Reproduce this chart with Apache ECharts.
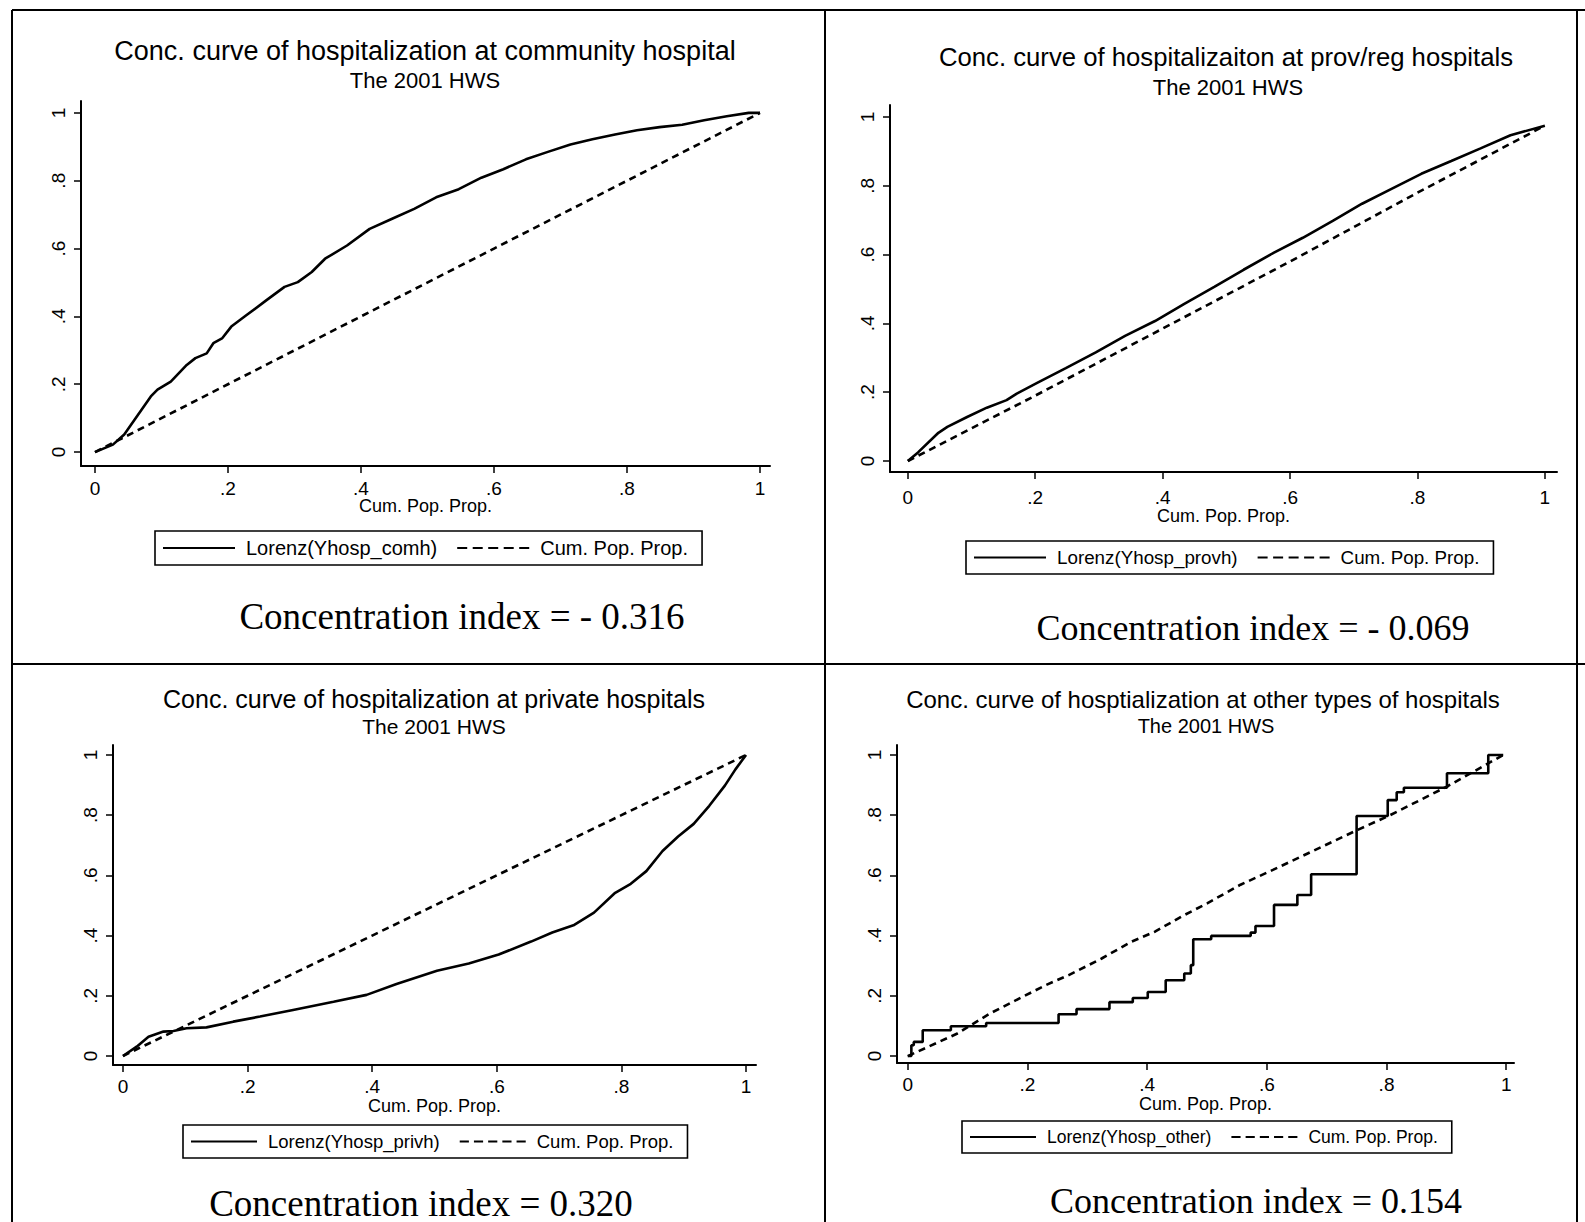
<!DOCTYPE html>
<html><head><meta charset="utf-8">
<script src="https://cdn.jsdelivr.net/npm/echarts@6/dist/echarts.min.js"></script>
<style>html,body{margin:0;padding:0;background:#fff}#c{width:1585px;height:1222px}</style>
</head><body><div id="c"></div>
<script>
// ---------- text ----------
const tickValues = [0, 0.2, 0.4, 0.6, 0.8, 1];
const tickLabels = ['0', '.2', '.4', '.6', '.8', '1'];
const panelTitles = [
  'Conc. curve of hospitalization at community hospital',
  'Conc. curve of hospitalizaiton at prov/reg hospitals',
  'Conc. curve of hospitalization at private hospitals',
  'Conc. curve of hosptialization at other types of hospitals'
];
const subtitle = 'The 2001 HWS';
const axisTitle = 'Cum. Pop. Prop.';
const lorenzNames = ['Lorenz(Yhosp_comh)', 'Lorenz(Yhosp_provh)', 'Lorenz(Yhosp_privh)', 'Lorenz(Yhosp_other)'];
const diagName = 'Cum. Pop. Prop.';
const concTexts = [
  'Concentration index = - 0.316',
  'Concentration index = - 0.069',
  'Concentration index = 0.320',
  'Concentration index = 0.154'
];

// ---------- data ----------
// Panel 1: community hospital
const comhX = [0,0.027,0.044,0.084,0.094,0.114,0.138,0.151,0.168,0.178,0.191,0.205,0.228,0.258,0.285,0.305,0.326,0.346,0.379,0.413,0.446,0.48,0.513,0.547,0.581,0.614,0.648,0.681,0.715,0.748,0.782,0.815,0.849,0.883,0.916,0.95,0.983,1];
const comhY = [0,0.022,0.052,0.164,0.184,0.208,0.257,0.277,0.291,0.321,0.335,0.37,0.404,0.448,0.487,0.501,0.531,0.57,0.609,0.658,0.687,0.717,0.751,0.775,0.809,0.834,0.863,0.885,0.907,0.922,0.936,0.949,0.958,0.965,0.978,0.99,1.0,1.0];
const comhDiagX = [0, 0.2, 0.4, 0.6, 0.8, 1];
const comhDiagY = [0, 0.2, 0.4, 0.6, 0.8, 1];
// Panel 2: prov/reg hospitals
const provhX = [0,0.016,0.048,0.062,0.093,0.124,0.155,0.171,0.203,0.248,0.295,0.341,0.388,0.434,0.481,0.527,0.574,0.62,0.667,0.713,0.76,0.806,0.853,0.899,0.946,1];
const provhY = [0,0.025,0.082,0.099,0.128,0.155,0.177,0.196,0.227,0.27,0.316,0.364,0.407,0.457,0.506,0.556,0.605,0.649,0.698,0.748,0.792,0.835,0.872,0.909,0.947,0.975];
const provhDiagX = [0, 0.2, 0.4, 0.6, 0.8, 1];
const provhDiagY = [0, 0.19, 0.385, 0.58, 0.78, 0.975];
// Panel 3: private hospitals
const privhX = [0,0.022,0.041,0.065,0.081,0.102,0.134,0.177,0.22,0.273,0.338,0.391,0.439,0.504,0.555,0.603,0.655,0.689,0.723,0.756,0.79,0.815,0.84,0.866,0.891,0.916,0.941,0.966,0.983,1];
const privhY = [0,0.031,0.064,0.081,0.083,0.092,0.095,0.114,0.131,0.153,0.18,0.203,0.239,0.283,0.307,0.337,0.38,0.41,0.434,0.476,0.542,0.572,0.614,0.681,0.729,0.771,0.831,0.898,0.952,1.0];
const privhDiagX = [0, 0.2, 0.4, 0.6, 0.8, 1];
const privhDiagY = [0, 0.2, 0.4, 0.6, 0.8, 1];
// Panel 4: other hospitals (step curve)
const otherX = [0,0.006,0.01,0.025,0.072,0.131,0.252,0.282,0.337,0.376,0.401,0.431,0.462,0.473,0.477,0.507,0.573,0.581,0.612,0.651,0.674,0.75,0.802,0.817,0.829,0.901,0.97,0.995];
const otherY = [0,0.036,0.047,0.086,0.099,0.11,0.139,0.156,0.179,0.193,0.213,0.252,0.274,0.302,0.388,0.399,0.41,0.432,0.502,0.535,0.604,0.797,0.85,0.876,0.891,0.939,1.0,1.0];
const otherDiagX = [0,0.082,0.137,0.192,0.231,0.269,0.324,0.374,0.413,0.457,0.501,0.556,0.611,0.745,0.806,0.901,0.995];
const otherDiagY = [0,0.074,0.141,0.197,0.236,0.269,0.324,0.38,0.413,0.463,0.508,0.569,0.619,0.745,0.8,0.895,1.0];

const lorenzX = [comhX, provhX, privhX, otherX];
const lorenzY = [comhY, provhY, privhY, otherY];
const diagX = [comhDiagX, provhDiagX, privhDiagX, otherDiagX];
const diagY = [comhDiagY, provhDiagY, privhDiagY, otherDiagY];

// ---------- layout / style ----------
const SANS = "'Liberation Sans', Arial, sans-serif";
const SERIF = "'Liberation Serif', 'Times New Roman', serif";
const layout = [
  { grid: {left: 81, top: 101, width: 689, height: 365}, x: [-0.021, 1.015], y: [-0.041, 1.035],
    title: [425, 51], titleFont: 27, sub: [425, 80], subFont: 22,
    legend: [155, 531], legendFont: 20, iconW: 72, conc: [462, 616], concFont: 37,
    lblMargin: 14, nameGap: 32, yMargin: 13 },
  { grid: {left: 890, top: 105, width: 667, height: 367}, x: [-0.028, 1.019], y: [-0.032, 1.035],
    title: [1226, 57], titleFont: 25.7, sub: [1228, 87], subFont: 22,
    legend: [966, 541], legendFont: 18.8, iconW: 72, conc: [1253, 628], concFont: 36,
    lblMargin: 17, nameGap: 36, yMargin: 13 },
  { grid: {left: 113, top: 745, width: 643, height: 320}, x: [-0.016, 1.016], y: [-0.03, 1.033],
    title: [434, 699], titleFont: 25, sub: [434, 726], subFont: 21,
    legend: [183, 1125], legendFont: 18.5, iconW: 66, conc: [421, 1203], concFont: 37,
    lblMargin: 13, nameGap: 33, yMargin: 13 },
  { grid: {left: 897, top: 745, width: 617, height: 318}, x: [-0.018, 1.013], y: [-0.023, 1.033],
    title: [1203, 699], titleFont: 24, sub: [1206, 726], subFont: 20,
    legend: [962, 1121], legendFont: 17.5, iconW: 66, conc: [1256, 1201], concFont: 36,
    lblMargin: 13, nameGap: 33, yMargin: 13 }
];
// legend key glyphs (solid bar and five dashes, 72 x 2 units)
const solidIcon = 'path://M0,0H72V2H0Z';
const dashIcon = 'path://M0,0H10V2H0Z M15.5,0H25.5V2H15.5Z M31,0H41V2H31Z M46.5,0H56.5V2H46.5Z M62,0H72V2H62Z';

const zip = (xs, ys) => xs.map((v, i) => [v, ys[i]]);
const fmt = v => { const i = tickValues.findIndex(t => Math.abs(t - v) < 1e-9); return i >= 0 ? tickLabels[i] : ''; };

const grids = [], xAxes = [], yAxes = [], series = [], legends = [], graphics = [];
layout.forEach((L, i) => {
  grids.push(Object.assign({containLabel: false}, L.grid));
  const axisCommon = {
    type: 'value', gridIndex: i,
    axisLine: {show: true, onZero: false, lineStyle: {color: '#000', width: 2}},
    axisTick: {show: true, length: 7, customValues: tickValues, lineStyle: {color: '#000', width: 1.5}},
    splitLine: {show: false},
  };
  xAxes.push(Object.assign({}, axisCommon, {
    min: L.x[0], max: L.x[1],
    axisLabel: {customValues: tickValues, formatter: fmt, color: '#000', fontSize: 19, lineHeight: 17, fontFamily: SANS, margin: L.lblMargin},
    name: axisTitle, nameLocation: 'middle', nameGap: L.nameGap, nameMoveOverlap: false,
    nameTextStyle: {color: '#000', fontSize: 18, lineHeight: 16, fontFamily: SANS, verticalAlign: 'top'}
  }));
  yAxes.push(Object.assign({}, axisCommon, {
    min: L.y[0], max: L.y[1],
    axisLabel: {customValues: tickValues, formatter: fmt, color: '#000', fontSize: 19, fontFamily: SANS, rotate: 90, margin: L.yMargin}
  }));
  series.push({
    name: lorenzNames[i], type: 'line', xAxisIndex: i, yAxisIndex: i,
    data: zip(lorenzX[i], lorenzY[i]), symbol: 'none', showSymbol: false,
    step: i === 3 ? 'end' : false,
    lineStyle: {color: '#000', width: 2.6, type: 'solid'}, itemStyle: {color: '#000'}
  });
  series.push({
    name: diagName, type: 'line', xAxisIndex: i, yAxisIndex: i,
    data: zip(diagX[i], diagY[i]), symbol: 'none', showSymbol: false,
    lineStyle: {color: '#000', width: 2.6, type: [7, 5]}, itemStyle: {color: '#000'}
  });
  legends.push({
    data: [{name: lorenzNames[i], icon: solidIcon}, {name: diagName, icon: dashIcon}],
    left: L.legend[0], top: L.legend[1],
    orient: 'horizontal', selectedMode: false,
    borderColor: '#000', borderWidth: 1.6, borderRadius: 0,
    padding: [7, 14, 7, 8], itemWidth: L.iconW, itemHeight: 14, itemGap: 20,
    itemStyle: {color: '#000', borderWidth: 0},
    textStyle: {color: '#000', fontSize: L.legendFont, fontFamily: SANS, padding: [0, 0, 0, 6]}
  });
  graphics.push({type: 'text', x: L.title[0], y: L.title[1],
    style: {text: panelTitles[i], fill: '#000', font: `${L.titleFont}px ${SANS}`, textAlign: 'center', textVerticalAlign: 'middle'}});
  graphics.push({type: 'text', x: L.sub[0], y: L.sub[1],
    style: {text: subtitle, fill: '#000', font: `${L.subFont}px ${SANS}`, textAlign: 'center', textVerticalAlign: 'middle'}});
  graphics.push({type: 'text', x: L.conc[0], y: L.conc[1],
    style: {text: concTexts[i], fill: '#000', font: `${L.concFont}px ${SERIF}`, textAlign: 'center', textVerticalAlign: 'middle'}});
});

// panel frame lines
const frame = [[12, 10, 1585, 10], [12, 10, 12, 1222], [825, 10, 825, 1222], [12, 664, 1585, 664], [1577, 10, 1577, 1222]];
frame.forEach(f => graphics.push({type: 'line', shape: {x1: f[0], y1: f[1], x2: f[2], y2: f[3]}, style: {stroke: '#000', lineWidth: 2}}));

const chart = echarts.init(document.getElementById('c'), null, {renderer: 'svg'});
chart.setOption({
  animation: false,
  backgroundColor: '#fff',
  grid: grids, xAxis: xAxes, yAxis: yAxes, series: series, legend: legends,
  graphic: graphics
});
</script></body></html>
